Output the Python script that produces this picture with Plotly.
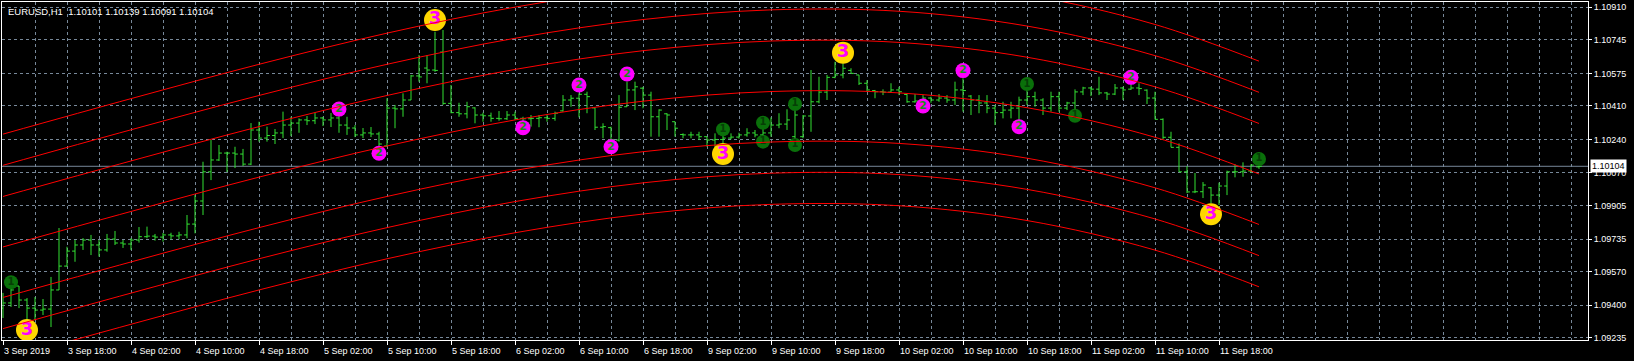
import plotly.graph_objects as go

# ---------------- data (prices in points, 1 point = 0.00001) ----------------
opens = [109385,109411,109497,109426,109385,109375,109380,109477,109598,109674,
         109705,109730,109705,109680,109735,109715,109710,109730,109747,109750,
         109745,109756,109751,109756,109811,109928,110076,110136,110171,110171,
         110166,110115,110288,110247,110260,110273,110313,110323,110339,110335,
         110349,110339,110349,110313,110298,110263,110273,110268,110207,110399,
         110395,110440,110562,110602,110592,110683,110423,110376,110370,110400,
         110364,110360,110347,110345,110364,110347,110345,110347,110350,110347,
         110385,110440,110449,110469,110400,110302,110300,110237,110406,110491,
         110500,110465,110355,110370,110330,110265,110263,110263,110254,110237,
         110240,110247,110252,110263,110273,110263,110273,110313,110318,110254,
         110254,110359,110431,110480,110555,110567,110590,110567,110525,110488,
         110482,110480,110491,110468,110431,110435,110450,110440,110450,110440,
         110491,110460,110440,110425,110399,110376,110389,110399,110440,110457,
         110440,110399,110457,110399,110425,110481,110501,110495,110476,110470,
         110501,110495,110501,110490,110450,110342,110251,110200,110076,109974,
         109975,109995,109958,110004,110076,110076,110080,110101]
highs = [109462,109492,109497,109436,109441,109431,109543,109791,109696,109730,
         109740,109756,109730,109761,109776,109730,109740,109796,109798,109761,
         109766,109767,109772,109857,109958,110127,110237,110212,110178,110203,
         110192,110323,110330,110305,110293,110381,110355,110347,110359,110374,
         110355,110374,110364,110355,110313,110298,110303,110279,110449,110415,
         110474,110567,110668,110668,110786,110795,110516,110426,110431,110403,
         110376,110376,110384,110384,110381,110355,110364,110364,110364,110381,
         110465,110465,110474,110482,110403,110322,110305,110465,110533,110533,
         110507,110482,110393,110373,110330,110271,110279,110279,110254,110271,
         110263,110271,110274,110297,110288,110297,110352,110373,110393,110389,
         110364,110592,110558,110567,110634,110626,110601,110567,110541,110491,
         110494,110525,110507,110470,110470,110465,110457,110470,110465,110533,
         110550,110465,110465,110465,110415,110431,110431,110457,110525,110482,
         110449,110482,110482,110431,110494,110507,110507,110558,110481,110521,
         110507,110533,110525,110494,110482,110347,110279,110220,110105,110070,
         110024,109999,110021,110082,110114,110124,110114,110139]
lows = [109335,109391,109385,109325,109325,109350,109289,109477,109595,109620,
        109680,109654,109646,109671,109705,109690,109680,109717,109739,109727,
        109722,109734,109734,109739,109764,109857,110034,110131,110075,110095,
        110105,110110,110229,110229,110217,110247,110257,110274,110313,110318,
        110308,110303,110274,110263,110252,110247,110252,110203,110203,110297,
        110355,110440,110533,110525,110583,110415,110373,110355,110347,110322,
        110330,110330,110335,110339,110339,110313,110305,110302,110330,110335,
        110381,110406,110352,110373,110288,110246,110237,110229,110406,110389,
        110398,110254,110254,110288,110254,110246,110246,110237,110203,110195,
        110220,110241,110244,110254,110251,110251,110254,110297,110288,110237,
        110246,110279,110423,110440,110550,110550,110575,110516,110482,110449,
        110465,110479,110465,110426,110426,110431,110426,110431,110426,110415,
        110381,110364,110373,110373,110313,110347,110347,110339,110415,110406,
        110364,110381,110381,110389,110347,110465,110460,110465,110440,110465,
        110440,110491,110465,110420,110342,110241,110200,110076,109968,109968,
        109943,109916,109908,109958,110048,110051,110071,110091]
closes = [109411,109477,109426,109385,109375,109380,109477,109598,109674,109705,
          109730,109705,109680,109735,109715,109710,109730,109747,109750,109745,
          109756,109751,109756,109811,109928,110076,110136,110171,110171,110166,
          110115,110288,110247,110260,110273,110313,110323,110339,110335,110349,
          110339,110349,110313,110298,110263,110273,110268,110217,110399,110395,
          110440,110562,110557,110592,110590,110423,110376,110370,110406,110364,
          110360,110347,110345,110364,110347,110345,110347,110350,110347,110373,
          110440,110449,110469,110457,110302,110305,110240,110403,110491,110507,
          110465,110355,110389,110364,110297,110263,110263,110254,110237,110240,
          110247,110252,110263,110273,110263,110273,110313,110318,110339,110364,
          110359,110431,110480,110555,110567,110601,110575,110525,110491,110482,
          110480,110491,110482,110431,110435,110450,110440,110450,110440,110491,
          110488,110440,110425,110399,110376,110389,110399,110440,110457,110440,
          110399,110457,110399,110425,110481,110501,110495,110476,110470,110501,
          110491,110501,110498,110450,110342,110251,110200,110076,109974,109975,
          110009,109958,110004,110076,110076,110080,110110,110104]

time_labels = ["3 Sep 2019", "3 Sep 18:00", "4 Sep 02:00", "4 Sep 10:00", "4 Sep 18:00",
               "5 Sep 02:00", "5 Sep 10:00", "5 Sep 18:00", "6 Sep 02:00", "6 Sep 10:00",
               "6 Sep 18:00", "9 Sep 02:00", "9 Sep 10:00", "9 Sep 18:00", "10 Sep 02:00",
               "10 Sep 10:00", "10 Sep 18:00", "11 Sep 02:00", "11 Sep 10:00", "11 Sep 18:00"]
time_label_bars = [0, 8, 16, 24, 32, 40, 48, 56, 64, 72, 80, 88, 96, 104, 112, 120, 128, 136, 144, 152]

price_labels = ["1.10910", "1.10745", "1.10575", "1.10410", "1.10240", "1.10070",
                "1.09905", "1.09735", "1.09570", "1.09400", "1.09235"]

# regression channel (center and bands), read at anchor bars
channel_bars = [0, 16, 32, 48, 64, 80, 96, 112, 128, 144, 157]
channel_lines = [
    [110267, 110447, 110621, 110779, 110911, 111006, 111055, 111048, 110973, 110823, 110637],
    [110109, 110289, 110463, 110621, 110753, 110848, 110897, 110890, 110815, 110665, 110479],
    [109951, 110131, 110305, 110463, 110595, 110690, 110739, 110732, 110657, 110507, 110321],
    [109695, 109875, 110049, 110207, 110339, 110434, 110483, 110476, 110401, 110251, 110065],
    [109439, 109619, 109793, 109951, 110083, 110178, 110227, 110220, 110145, 109995, 109809],
    [109281, 109461, 109635, 109793, 109925, 110020, 110069, 110062, 109987, 109837, 109651],
    [109123, 109303, 109477, 109635, 109767, 109862, 109911, 109904, 109829, 109679, 109493],
]

# signal markers
m1_bars = [1, 90, 95, 95, 99, 99, 128, 134, 157]
m1_prices = [109516, 110291, 110325, 110229, 110420, 110212, 110521, 110360, 110141]
m2_bars = [42, 47, 65, 72, 76, 78, 115, 120, 127, 141]
m2_prices = [110394, 110170, 110300, 110516, 110203, 110572, 110410, 110589, 110305, 110555]
m3_bars = [3, 54, 90, 105, 151]
m3_prices = [109274, 110846, 110166, 110680, 109861]

symbol_text = "EURUSD,H1\u00a0\u00a01.10101 1.10139 1.10091 1.10104"
last_price = 110104

# ---------------- figure ----------------
P = 1e5
bars = list(range(len(opens)))
GRID = "#778899"
FONT = "Liberation Sans, Arial, sans-serif"

fig = go.Figure()

fig.add_trace(go.Ohlc(
    x=bars,
    open=[v / P for v in opens], high=[v / P for v in highs],
    low=[v / P for v in lows], close=[v / P for v in closes],
    increasing=dict(line=dict(color="#33e033", width=1)),
    decreasing=dict(line=dict(color="#33e033", width=1)),
    tickwidth=0.36, hoverinfo="skip", showlegend=False,
))

def add_markers(bx, pr, digit, fill, txtcol, size, fsize):
    fig.add_trace(go.Scatter(
        x=bx, y=[v / P for v in pr], mode="markers+text",
        marker=dict(size=size, color=fill, line=dict(width=0)),
        text=[digit] * len(bx), textposition="middle center",
        textfont=dict(color=txtcol, size=fsize, family="DejaVu Sans", weight="bold"),
        hoverinfo="skip", showlegend=False, cliponaxis=False,
    ))

add_markers(m1_bars, m1_prices, "1", "#0a700a", "#063f06", 14, 10)
add_markers(m2_bars, m2_prices, "2", "#ff00ff", "#1a8a1a", 15, 11)
add_markers(m3_bars, m3_prices, "3", "#ffd700", "#ff00ff", 22, 18)

for line in channel_lines:
    fig.add_trace(go.Scatter(
        x=channel_bars, y=[v / P for v in line], mode="lines",
        line=dict(color="#ff0000", width=1, shape="spline", smoothing=1.0),
        hoverinfo="skip", showlegend=False,
    ))

annotations = []
for b, t in zip(time_label_bars, time_labels):
    annotations.append(dict(
        x=b, y=0, xref="x", yref="paper", text=t, showarrow=False,
        xanchor="left", yanchor="middle", yshift=-11, xshift=-1,
        font=dict(color="white", size=9, family=FONT),
    ))
annotations.append(dict(
    x=0, y=1, xref="paper", yref="paper", text=symbol_text, showarrow=False,
    xanchor="left", yanchor="middle", xshift=4, yshift=-9,
    font=dict(color="white", size=9.5, family=FONT),
))
annotations.append(dict(
    x=1, y=last_price / P, xref="paper", yref="y", text="1.10104", showarrow=False,
    xanchor="left", yanchor="middle", xshift=2, bgcolor="white", borderpad=1,
    font=dict(color="black", size=9, family=FONT),
))

fig.update_layout(
    width=1634, height=361,
    margin=dict(l=2, r=46, t=2, b=21),
    paper_bgcolor="black", plot_bgcolor="black",
    showlegend=False,
    annotations=annotations,
    shapes=[dict(type="line", xref="paper", x0=0, x1=1, yref="y",
                 y0=last_price / P, y1=last_price / P,
                 line=dict(color=GRID, width=1), layer="below")],
    xaxis=dict(
        range=[-0.125, 198.125], rangeslider=dict(visible=False),
        tickmode="array", tickvals=time_label_bars, ticktext=[""] * len(time_label_bars),
        showticklabels=False, ticks="outside", ticklen=4, tickcolor="white",
        showgrid=True, gridcolor=GRID, griddash="3px,3px", gridwidth=1,
        minor=dict(dtick=4, tick0=0, showgrid=True, gridcolor=GRID,
                   griddash="3px,3px", gridwidth=1, ticks=""),
        showline=True, linecolor="white", linewidth=1, mirror=True, zeroline=False,
        fixedrange=True,
    ),
    yaxis=dict(
        range=[1.092233, 1.109369], side="right",
        tickmode="array", tickvals=[float(t) for t in price_labels], ticktext=price_labels,
        ticks="outside", ticklen=3, tickcolor="white",
        tickfont=dict(color="white", size=9, family=FONT),
        showgrid=True, gridcolor=GRID, griddash="3px,3px", gridwidth=1,
        showline=True, linecolor="white", linewidth=1, mirror=True, zeroline=False,
        fixedrange=True,
    ),
)

fig.write_html("out.html", include_plotlyjs=True, config={"displayModeBar": False})
